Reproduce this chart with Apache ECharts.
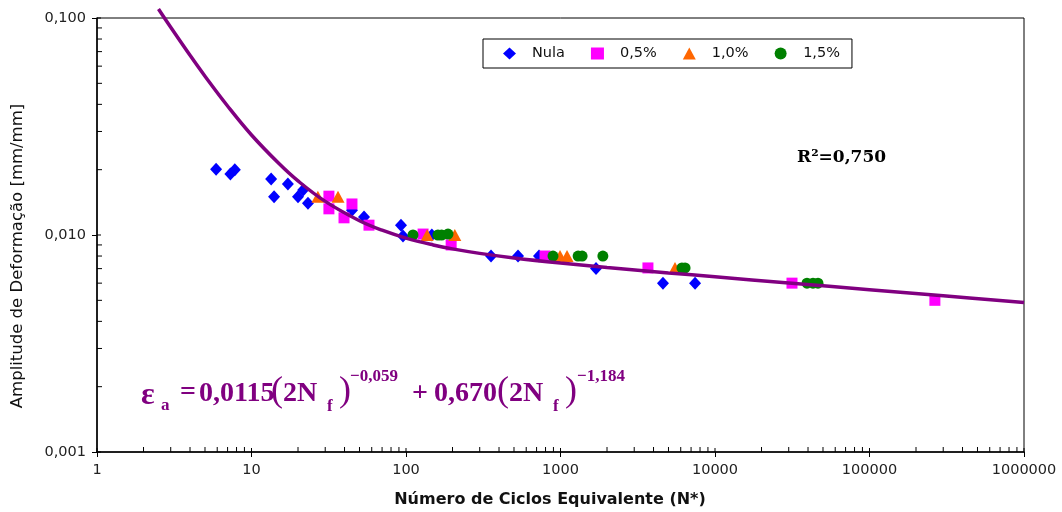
<!DOCTYPE html>
<html><head><meta charset="utf-8">
<script src="https://cdn.jsdelivr.net/npm/echarts@6/dist/echarts.min.js"></script>
<style>html,body{margin:0;padding:0;background:#fff}#c{width:1062px;height:512px}</style>
</head><body><div id="c"></div>
<script>
// ---- data ----
const seriesNames = ['Nula', '0,5%', '1,0%', '1,5%'];
// [N*, strain amplitude]
const nula = [[5.9,0.0201],[7.3,0.0191],[7.8,0.0200],[13.4,0.0181],[14.0,0.0150],[17.2,0.0172],
  [20.0,0.0150],[21.6,0.0161],[23.2,0.0140],[44.7,0.0130],[53.5,0.0121],[92.8,0.0111],[95.6,0.0099],
  [147,0.0100],[355,0.0080],[531,0.0080],[726,0.0080],[1698,0.0070],[4605,0.0060],[7430,0.0060]];
const pct05 = [[31.7,0.0151],[44.7,0.0139],[31.7,0.0132],[39.7,0.0120],[57.6,0.0111],[129,0.0101],
  [196,0.0090],[794,0.0080],[3681,0.00705],[31500,0.0060],[265000,0.0050]];
const pct10 = [[26.9,0.0150],[36.3,0.0150],[137,0.0100],[207,0.0100],[993,0.0080],[1102,0.0080],[5510,0.00705]];
const pct15 = [[111,0.0100],[161,0.0100],[170,0.0100],[187,0.0101],[894,0.0080],[1300,0.0080],[1380,0.0080],
  [1880,0.0080],[6110,0.00705],[6400,0.00705],[39400,0.0060],[43100,0.0060],[46400,0.0060]];
// fitted curve as drawn
const fitCurve = [[2.5,0.110],[3,0.0906],[4,0.0673],[5,0.0539],[7,0.0393],[10,0.0289],[15,0.0214],
  [20,0.01775],[30,0.01429],[50,0.01163],[70,0.01052],[100,0.00968],[150,0.0090],[200,0.00863],
  [300,0.00823],[500,0.00784],[1000,0.00743],[2000,0.00709],[5000,0.00669],[10000,0.00642],
  [30000,0.00601],[100000,0.00560],[300000,0.00525],[1000000,0.00489]];
// axis ticks
const xDecades = [1, 10, 100, 1000, 10000, 100000];
const yDecades = [0.001, 0.01];
const minorMultipliers = [2, 3, 4, 5, 6, 7, 8, 9];
const xMajorTicks = [1, 10, 100, 1000, 10000, 100000, 1000000];
const yMajorTicks = [0.001, 0.01, 0.1];

const colors = ['#0000ff', '#ff00ff', '#ff6600', '#008000'];
const symbols = ['diamond', 'rect', 'triangle', 'circle'];
const symbolSizes = [[12,13], 11, [13,12], 11];
const dataSets = [nula, pct05, pct10, pct15];

const xMinor = [], yMinor = [];
xDecades.forEach(d => minorMultipliers.forEach(m => xMinor.push([d * m, 0.001])));
yDecades.forEach(d => minorMultipliers.forEach(m => yMinor.push([1, d * m])));
const xMajorIn = xMajorTicks.map(v => [v, 0.001]);
const yMajorIn = yMajorTicks.map(v => [1, v]);

function tickSeries(points, dir, len) {
  return {
    type: 'scatter', silent: true, clip: false, z: 6, data: points,
    symbol: 'rect',
    symbolSize: dir === 'x' ? [1, len] : [len, 1],
    symbolOffset: dir === 'x' ? [0, -len / 2] : [len / 2, 0],
    itemStyle: { color: '#000', opacity: 1 },
    emphasis: { disabled: true }, tooltip: { show: false }
  };
}

const scatterSeries = seriesNames.map((name, i) => ({
  name: name, type: 'scatter', data: dataSets[i], symbol: symbols[i],
  symbolSize: symbolSizes[i],
  itemStyle: { color: colors[i], opacity: 1 }, z: 3 + i * 0.01
}));

const purple = '#800080';
const serif = '"Liberation Serif", "Times New Roman", serif';
function t(text, x, y, size, weight) {
  return {
    type: 'text', x: x, y: y, silent: true,
    style: { text: text, fill: purple, font: weight + ' ' + size + 'px ' + serif, align: 'left', verticalAlign: 'middle' }
  };
}
const eq = [
  t('ε', 141, 396, 32, 'bold'),
  t('a', 161, 406, 17, 'bold'),
  t('=', 180, 393, 28, 'bold'),
  t('0,0115', 199, 394, 28, 'bold'),
  t('(', 271, 392, 36, 'normal'),
  t('2N', 283, 394, 28, 'bold'),
  t('f', 327, 407, 17, 'bold'),
  t(')', 339, 392, 36, 'normal'),
  t('−0,059', 350, 377, 17, 'bold'),
  t('+', 412, 394, 28, 'bold'),
  t('0,670', 434, 394, 28, 'bold'),
  t('(', 497, 392, 36, 'normal'),
  t('2N', 509, 394, 28, 'bold'),
  t('f', 553, 407, 17, 'bold'),
  t(')', 565, 392, 36, 'normal'),
  t('−1,184', 577, 377, 17, 'bold')
];

const option = {
  backgroundColor: '#fff',
  animation: false,
  grid: { left: 97, right: 38, top: 18, bottom: 60, show: true, borderColor: '#000', borderWidth: 1, backgroundColor: 'transparent' },
  legend: {
    data: seriesNames, left: 483, top: 39, orient: 'horizontal',
    padding: [7, 12, 7, 20], itemWidth: 13, itemHeight: 12, itemGap: 26,
    borderColor: '#000', borderWidth: 1, backgroundColor: '#fff',
    textStyle: { fontFamily: '"DejaVu Sans", sans-serif', fontSize: 14.5, color: '#111', padding: [0, 0, 0, 11] }
  },
  xAxis: {
    type: 'log', logBase: 10, min: 1, max: 1000000, splitNumber: 6,
    axisLine: { lineStyle: { color: '#000', width: 1.5 } },
    axisTick: { show: true, inside: false, length: 5, lineStyle: { color: '#000' } },
    splitLine: { show: false },
    axisLabel: { margin: 11, color: '#222', fontFamily: '"DejaVu Sans", sans-serif', fontSize: 14.5,
      formatter: v => String(Math.round(v)) }
  },
  yAxis: {
    type: 'log', logBase: 10, min: 0.001, max: 0.1, splitNumber: 2,
    axisLine: { lineStyle: { color: '#000', width: 1.5 } },
    axisTick: { show: true, inside: false, length: 5, lineStyle: { color: '#000' } },
    splitLine: { show: false },
    axisLabel: { margin: 11, color: '#222', fontFamily: '"DejaVu Sans", sans-serif', fontSize: 14.5,
      formatter: v => (Math.round(v * 1000) / 1000).toFixed(3).replace('.', ',') }
  },
  graphic: [
    { type: 'text', x: 18, y: 256, rotation: Math.PI / 2, silent: true,
      style: { text: 'Amplitude de Deformação [mm/mm]', fill: '#111', font: 'normal 16.5px "DejaVu Sans", sans-serif', align: 'center', verticalAlign: 'middle' } },
    { type: 'text', x: 550, y: 500, silent: true,
      style: { text: 'Número de Ciclos Equivalente (N*)', fill: '#111', font: 'bold 16px "DejaVu Sans", sans-serif', align: 'center', verticalAlign: 'middle' } },
    { type: 'text', x: 797, y: 158, silent: true,
      style: { text: 'R²=0,750', fill: '#000', font: 'bold 17px "DejaVu Serif", serif', align: 'left', verticalAlign: 'middle' } }
  ].concat(eq),
  series: scatterSeries.concat([
    { name: 'fit', type: 'line', data: fitCurve, smooth: 0.4, showSymbol: false, clip: false, z: 4,
      lineStyle: { color: purple, width: 3.5 }, silent: true },
    tickSeries(xMinor, 'x', 5), tickSeries(yMinor, 'y', 5),
    tickSeries(xMajorIn, 'x', 4), tickSeries(yMajorIn, 'y', 4)
  ])
};
const chart = echarts.init(document.getElementById('c'), null, { renderer: 'canvas' });
chart.setOption(option);
</script></body></html>
